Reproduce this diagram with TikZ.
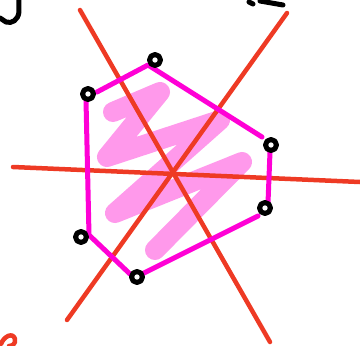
\documentclass[tikz,border=0pt]{standalone}
\usepackage{tikz}
\usepackage{xcolor}
\definecolor{axisred}{RGB}{238,58,36}
\definecolor{hullpink}{RGB}{255,0,214}
\definecolor{fillpink}{RGB}{255,153,235}

\begin{document}
\begin{tikzpicture}[x=1pt, y=-1pt, line cap=round, line join=round]
  \useasboundingbox (0,0) rectangle (360,346);

  % Scribbled fill
  \draw[fillpink, line width=20pt] (113,112) -- (160,92) -- (107,157) -- (220,120)
    -- (115,213) -- (242,162) -- (155,250);

  % Three axes through the centre
  \draw[axisred, line width=4.5pt] (80,10) -- (270,342);
  \draw[axisred, line width=4.5pt] (287,13) -- (67,320);
  \draw[axisred, line width=4.5pt] (13,167) -- (360,182);

  % Red scrap in the corner
  \draw[axisred, line width=4.5pt] (1,344) .. controls (4,336) and (13,332) .. (15,339)
    .. controls (16,344) and (12,346) .. (9,346);

  % Hull points
  \coordinate (p1) at (88,94);
  \coordinate (p2) at (155,60);
  \coordinate (p3) at (271,145);
  \coordinate (p4) at (265,208);
  \coordinate (p5) at (137,277);
  \coordinate (p6) at (81,237);

  % Hull edges
  \draw[hullpink, line width=5pt] (97,92) -- (148,65) -- (262,137);
  \draw[hullpink, line width=5pt] (270,152) -- (268,203);
  \draw[hullpink, line width=5pt] (258,216) -- (142,274);
  \draw[hullpink, line width=5pt] (130,274) -- (89,235) -- (86,100);

  % Point markers
  \foreach \p in {p1,p2,p3,p4,p5,p6}
    \draw[black, line width=5pt] (\p) circle (5.5);

  % Black scraps of writing at the top
  \draw[black, line width=5pt] (19,0) -- (19,12) .. controls (18,20) and (12,24) .. (6,22)
    -- (0,18);
  \draw[black, line width=5pt] (249,2) -- (253,4);
  \draw[black, line width=5pt] (260,1) -- (283,5);
\end{tikzpicture}
\end{document}
